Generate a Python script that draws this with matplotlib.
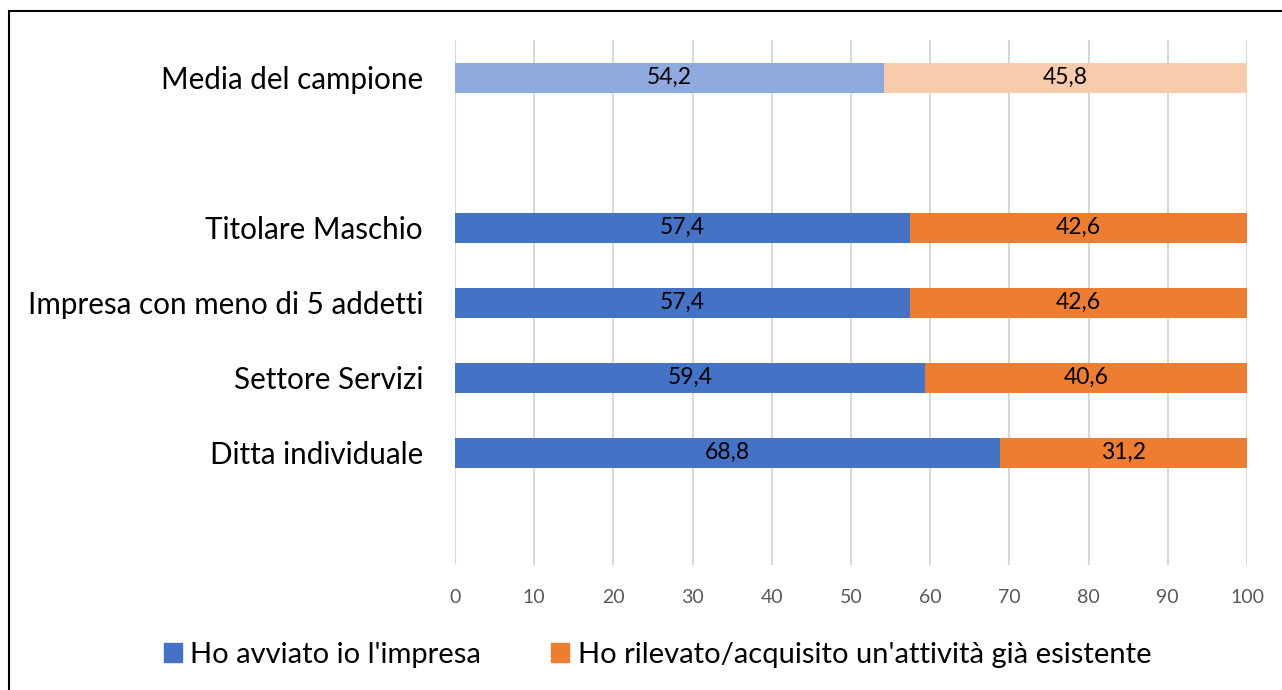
import numpy as np
import matplotlib
matplotlib.use("Agg")
import matplotlib.pyplot as plt
import matplotlib.patches as patches

plt.rcParams['font.family'] = ['Lato', 'DejaVu Sans']

# rows from top to bottom, blank rows are the gaps in the original chart
categories = ["Media del campione", "", "Titolare Maschio",
              "Impresa con meno di 5 addetti", "Settore Servizi",
              "Ditta individuale", ""]
avviato = [54.2, np.nan, 57.4, 57.4, 59.4, 68.8, np.nan]
rilevato = [45.8, np.nan, 42.6, 42.6, 40.6, 31.2, np.nan]
series_names = ["Ho avviato io l'impresa",
                "Ho rilevato/acquisito un'attività già esistente"]

blue, orange = "#4472C4", "#ED7D31"
light_blue, light_orange = "#8FAADC", "#F8CBAD"

fig = plt.figure(figsize=(12.82, 6.90), dpi=100)
ax = fig.add_axes([455 / 1282, 1 - 565 / 690, (1247 - 455) / 1282, (565 - 40) / 690])

y = np.arange(len(categories))
col1 = [light_blue if c == "Media del campione" else blue for c in categories]
col2 = [light_orange if c == "Media del campione" else orange for c in categories]

b1 = ax.barh(y, avviato, height=0.4, color=col1, label=series_names[0], zorder=3)
b2 = ax.barh(y, rilevato, left=avviato, height=0.4, color=col2, label=series_names[1], zorder=3)

def fmt(v):
    return ("%.1f" % v).replace(".", ",")

for bars, vals, lefts in [(b1, avviato, [0] * len(avviato)), (b2, rilevato, avviato)]:
    for i, v in enumerate(vals):
        if np.isnan(v):
            continue
        ax.text(lefts[i] + v / 2, y[i], fmt(v), ha="center", va="center",
                fontsize=16.5, color="black", zorder=4)

ax.set_xlim(0, 100)
ax.set_ylim(len(categories) - 0.5, -0.5)
ax.set_xticks(range(0, 101, 10))
ax.set_yticks(y)
ax.set_yticklabels(categories)
ax.xaxis.grid(True, color="#D9D9D9", linewidth=1.5, zorder=0)
ax.set_axisbelow(True)
for s in ax.spines.values():
    s.set_visible(False)
ax.tick_params(axis="x", length=0, labelsize=14, labelcolor="#595959", pad=17.5)
ax.tick_params(axis="y", length=0, labelsize=21.3, pad=23)

leg_handles = [patches.Patch(color=blue), patches.Patch(color=orange)]
fig.legend(leg_handles, series_names, loc="center", ncol=2,
           bbox_to_anchor=(0.513, 1 - 655 / 690), frameon=False,
           fontsize=21, handlelength=0.62, handleheight=0.62,
           handletextpad=0.3, columnspacing=2.4)

# outer frame of the original chart
frame = patches.Rectangle((9 / 1282, -0.05), 1.2, 1.05 - 11 / 690,
                          transform=fig.transFigure, fill=False,
                          edgecolor="black", linewidth=1.5, clip_on=False)
fig.patches.append(frame)

fig.savefig("out.png", dpi=100)
